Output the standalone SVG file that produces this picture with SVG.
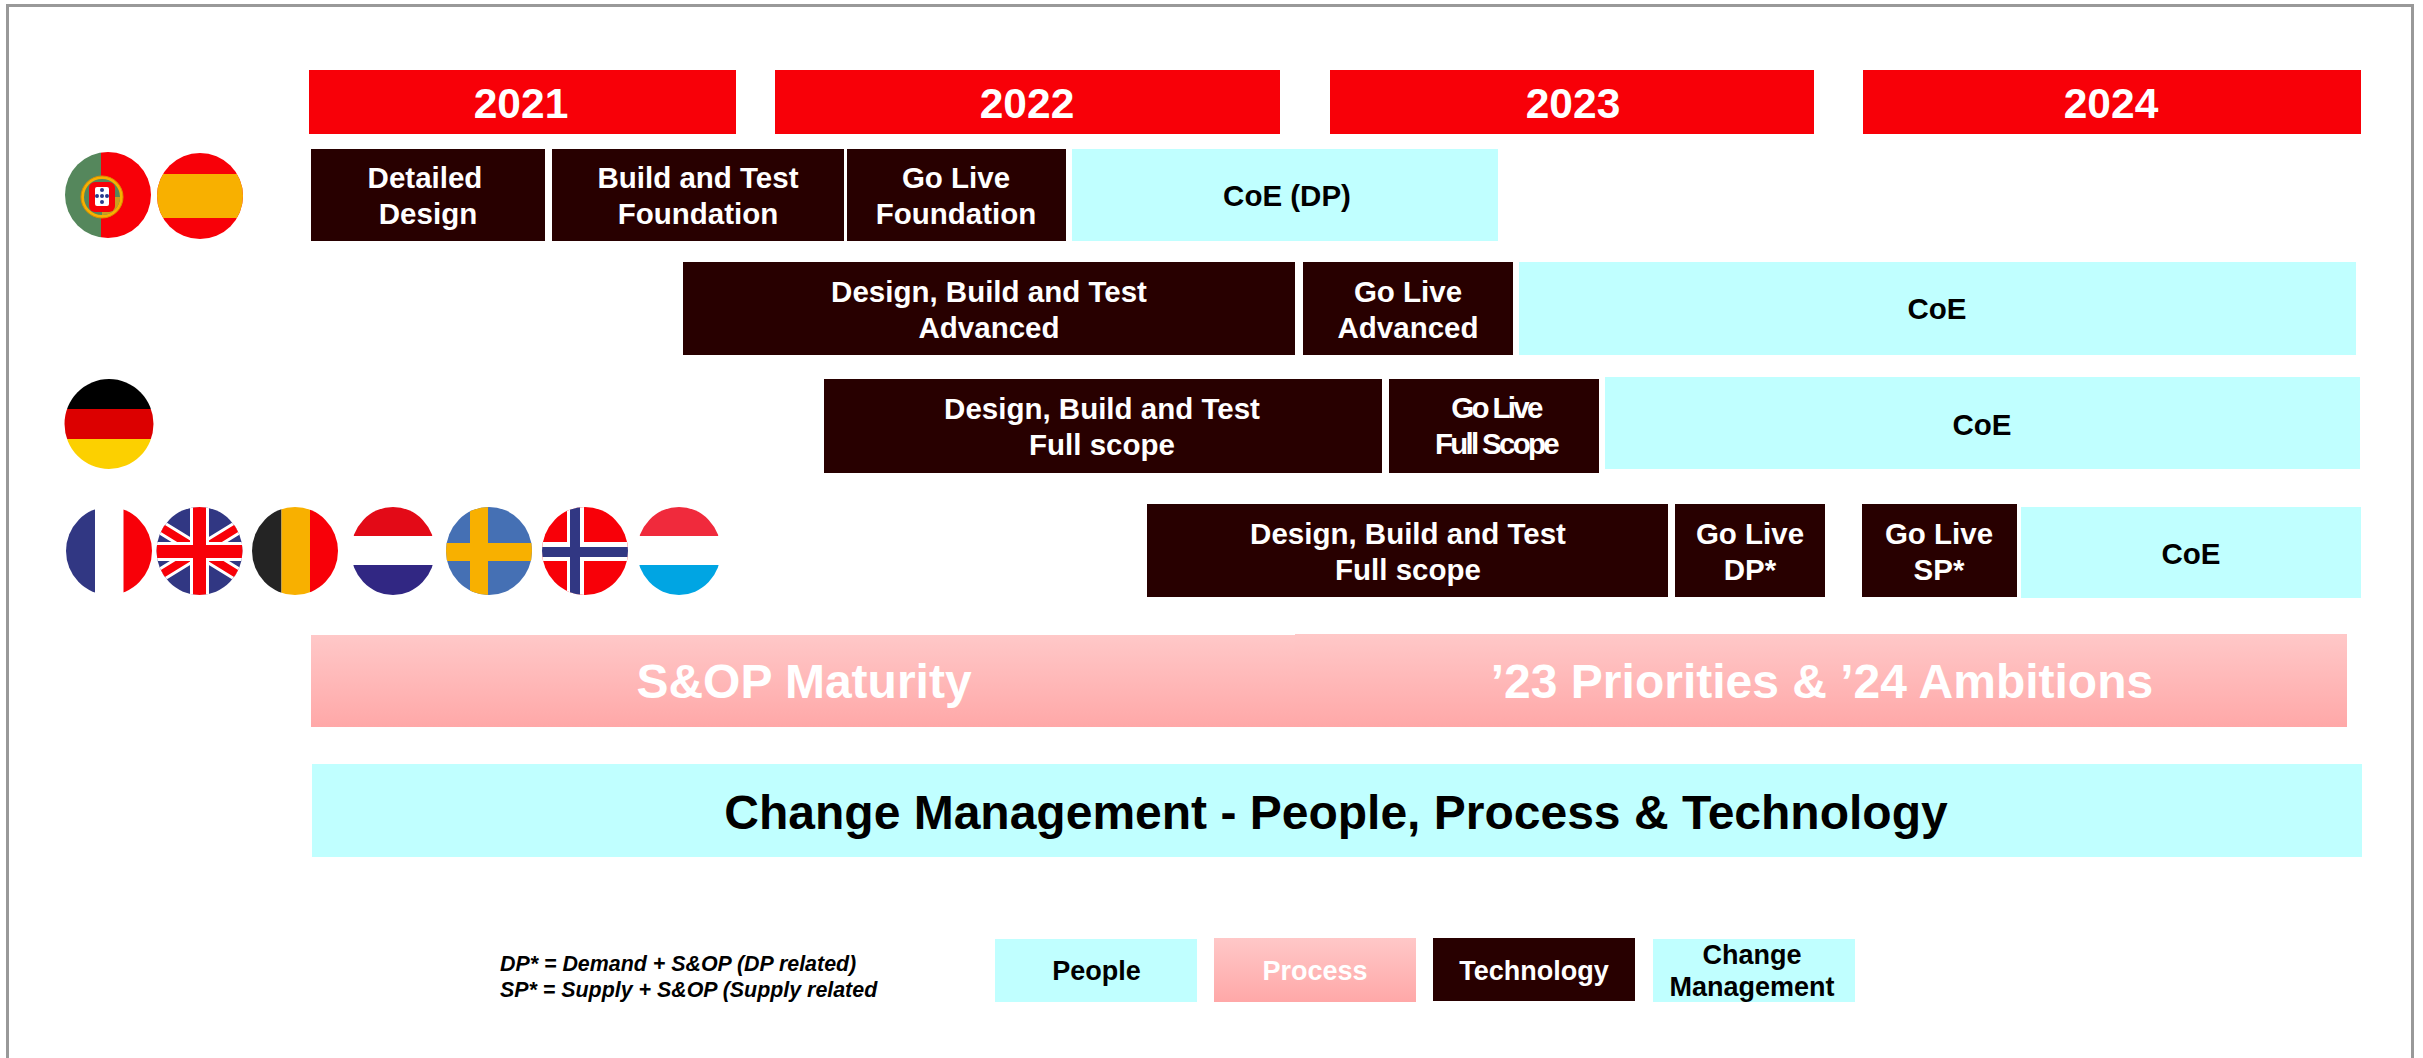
<svg xmlns="http://www.w3.org/2000/svg" width="2423" height="1058" viewBox="0 0 2423 1058">
<style>
text{font-family:"Liberation Sans",Arial,sans-serif;font-weight:bold;text-anchor:middle}
.y{font-size:42.500px;fill:#fff}
.d{fill:#280000}.c{fill:#c0ffff}.r{fill:#f80008}.p{fill:url(#pg)}
.w{font-size:29.500px;fill:#fff}.b{font-size:29.500px;fill:#000}
.l{font-size:27px}
.big{font-size:48px;fill:#fff}
.leg{font-size:21.400px;font-style:italic;text-anchor:start;fill:#000}
</style>
<defs>
<linearGradient id="pg" x1="0" y1="0" x2="0" y2="1"><stop offset="0" stop-color="#ffc8c8"/><stop offset="1" stop-color="#ffa8a8"/></linearGradient>
<clipPath id="cpt"><circle cx="108" cy="195" r="43"/></clipPath>
<clipPath id="ces"><circle cx="200" cy="196" r="43"/></clipPath>
<clipPath id="cde"><ellipse cx="109" cy="424" rx="44.500" ry="45"/></clipPath>
<clipPath id="cfr"><ellipse cx="109" cy="551" rx="43" ry="44"/></clipPath>
<clipPath id="cuk"><ellipse cx="199.500" cy="551" rx="43" ry="44"/></clipPath>
<clipPath id="cbe"><ellipse cx="295" cy="551" rx="43" ry="44"/></clipPath>
<clipPath id="cnl"><ellipse cx="393" cy="551" rx="42" ry="44"/></clipPath>
<clipPath id="cse"><ellipse cx="489" cy="551" rx="43" ry="44"/></clipPath>
<clipPath id="cno"><ellipse cx="585" cy="551" rx="43" ry="44"/></clipPath>
<clipPath id="clu"><ellipse cx="679" cy="551" rx="42" ry="44"/></clipPath>
</defs>
<rect width="2423" height="1058" fill="#fff"/>
<path d="M7.500 1058V5.500H2412.500V1058" fill="none" stroke="#999" stroke-width="3"/>
<g id="connectors"/>
<g id="year-2021"><rect class="r" x="309" y="70" width="427" height="64"/><text class="y" x="521" y="118">2021</text></g>
<g id="year-2022"><rect class="r" x="775" y="70" width="505" height="64"/><text class="y" x="1027" y="118">2022</text></g>
<g id="year-2023"><rect class="r" x="1330" y="70" width="484" height="64"/><text class="y" x="1573" y="118">2023</text></g>
<g id="year-2024"><rect class="r" x="1863" y="70" width="498" height="64"/><text class="y" x="2111" y="118">2024</text></g>

<g id="flag-pt" clip-path="url(#cpt)"><rect x="60" y="150" width="41" height="90" fill="#55875c"/><rect x="101" y="150" width="55" height="90" fill="#f80008"/><circle cx="102" cy="197" r="21" fill="#f8b000" stroke="#d89000"/><circle cx="102" cy="197" r="18" fill="#55875c"/><path d="M102 197h18v2a18 18 0 0 1-18 16z" fill="#c8a020"/><rect x="89" y="182" width="26" height="30" rx="6" fill="#f80008"/><rect x="95" y="187" width="14" height="19" rx="2" fill="#fff"/><g fill="#2a3a8c"><circle cx="102" cy="190" r="2"/><circle cx="97" cy="196" r="2"/><circle cx="102" cy="196" r="2"/><circle cx="107" cy="196" r="2"/><circle cx="102" cy="202" r="2"/></g></g>
<g id="flag-es" clip-path="url(#ces)"><rect x="150" y="150" width="100" height="100" fill="#f80008"/><rect x="150" y="174" width="100" height="44" fill="#f8b000"/></g>
<g id="flag-de" clip-path="url(#cde)"><rect x="60" y="375" width="100" height="34" fill="#000"/><rect x="60" y="409" width="100" height="30" fill="#dc0000"/><rect x="60" y="439" width="100" height="34" fill="#fcd000"/></g>
<g id="flag-fr" clip-path="url(#cfr)"><rect x="60" y="505" width="35" height="95" fill="#313783"/><rect x="123.500" y="505" width="35" height="95" fill="#f80008"/></g>
<g id="flag-uk" clip-path="url(#cuk)"><rect x="150" y="500" width="100" height="100" fill="#313783"/><path d="M129.500 508L269.500 594M269.500 508L129.500 594" stroke="#fff" stroke-width="14"/><path d="M129.500 508L269.500 594M269.500 508L129.500 594" stroke="#f80008" stroke-width="8"/><path d="M199.500 500V600M150 551.500H250" stroke="#fff" stroke-width="19"/><path d="M199.500 500V600M150 551.500H250" stroke="#f80008" stroke-width="13"/></g>
<g id="flag-be" clip-path="url(#cbe)"><rect x="245" y="500" width="36.500" height="100" fill="#242424"/><rect x="281.500" y="500" width="28.500" height="100" fill="#f8b000"/><rect x="310" y="500" width="35" height="100" fill="#f80008"/></g>
<g id="flag-nl" clip-path="url(#cnl)"><rect x="345" y="500" width="100" height="36" fill="#e30a17"/><rect x="345" y="565" width="100" height="36" fill="#312783"/></g>
<g id="flag-se" clip-path="url(#cse)"><rect x="440" y="500" width="100" height="100" fill="#4570b4"/><rect x="470" y="500" width="18" height="100" fill="#f8b000"/><rect x="440" y="543" width="100" height="18" fill="#f8b000"/></g>
<g id="flag-no" clip-path="url(#cno)"><rect x="535" y="500" width="100" height="100" fill="#f80008"/><rect x="567" y="500" width="17" height="100" fill="#fff"/><rect x="535" y="542" width="100" height="19" fill="#fff"/><rect x="570" y="500" width="10" height="100" fill="#313783"/><rect x="535" y="547" width="100" height="10" fill="#313783"/></g>
<g id="flag-lu" clip-path="url(#clu)"><rect x="630" y="500" width="100" height="36" fill="#f02a3c"/><rect x="630" y="565" width="100" height="36" fill="#00a5e3"/></g>

<g id="r1-design"><rect class="d" x="311" y="149" width="234" height="92"/><text class="w" x="425" y="188">Detailed</text><text class="w" x="428" y="224">Design</text></g>
<g id="r1-build"><rect class="d" x="552" y="149" width="292" height="92"/><text class="w" x="698" y="188">Build and Test</text><text class="w" x="698" y="224">Foundation</text></g>
<g id="r1-golive"><rect class="d" x="847" y="149" width="219" height="92"/><text class="w" x="956" y="188">Go Live</text><text class="w" x="956" y="224">Foundation</text></g>
<g id="r1-coe"><rect class="c" x="1072" y="149" width="426" height="92"/><text class="b" x="1287" y="206">CoE (DP)</text></g>

<g id="r2-design"><rect class="d" x="683" y="262" width="612" height="93"/><text class="w" x="989" y="302">Design, Build and Test</text><text class="w" x="989" y="338">Advanced</text></g>
<g id="r2-golive"><rect class="d" x="1303" y="262" width="210" height="93"/><text class="w" x="1408" y="302">Go Live</text><text class="w" x="1408" y="338">Advanced</text></g>
<g id="r2-coe"><rect class="c" x="1519" y="262" width="837" height="93"/><text class="b" x="1937" y="319">CoE</text></g>

<g id="r3-design"><rect class="d" x="824" y="379" width="558" height="94"/><text class="w" x="1102" y="419">Design, Build and Test</text><text class="w" x="1102" y="455">Full scope</text></g>
<g id="r3-golive"><rect class="d" x="1389" y="379" width="210" height="94"/><text class="w" x="1496" y="418" letter-spacing="-2.700">Go Live</text><text class="w" x="1496" y="454" letter-spacing="-2.700">Full Scope</text></g>
<g id="r3-coe"><rect class="c" x="1605" y="377" width="755" height="92"/><text class="b" x="1982" y="435">CoE</text></g>

<g id="r4-design"><rect class="d" x="1147" y="504" width="521" height="93"/><text class="w" x="1408" y="544">Design, Build and Test</text><text class="w" x="1408" y="580">Full scope</text></g>
<g id="r4-dp"><rect class="d" x="1675" y="504" width="150" height="93"/><text class="w" x="1750" y="544">Go Live</text><text class="w" x="1750" y="580">DP*</text></g>
<g id="r4-sp"><rect class="d" x="1862" y="504" width="155" height="93"/><text class="w" x="1939" y="544">Go Live</text><text class="w" x="1939" y="580">SP*</text></g>
<g id="r4-coe"><rect class="c" x="2021" y="507" width="340" height="91"/><text class="b" x="2191" y="564">CoE</text></g>

<g id="sop"><rect class="p" x="311" y="635" width="984" height="92"/><text class="big" x="804" y="698">S&amp;OP Maturity</text></g>
<g id="priorities"><rect class="p" x="1295" y="634" width="1052" height="93"/><text class="big" x="1822" y="698">’23 Priorities &amp; ’24 Ambitions</text></g>
<g id="change"><rect class="c" x="312" y="764" width="2050" height="93"/><text x="1336" y="829" font-size="48" fill="#000">Change Management - People, Process &amp; Technology</text></g>

<g id="legend-note"><text class="leg" x="500" y="971">DP* = Demand + S&amp;OP (DP related)</text><text class="leg" x="500" y="997">SP* = Supply + S&amp;OP (Supply related</text></g>
<g id="legend-people"><rect class="c" x="995" y="939" width="202" height="63"/><text class="l" x="1096.500" y="980" fill="#000">People</text></g>
<g id="legend-process"><rect class="p" x="1214" y="938" width="202" height="64"/><text class="l" x="1315" y="980" fill="#fff">Process</text></g>
<g id="legend-technology"><rect class="d" x="1433" y="938" width="202" height="63"/><text class="l" x="1534" y="980" fill="#fff">Technology</text></g>
<g id="legend-change"><rect class="c" x="1653" y="939" width="202" height="63"/><text class="l" x="1752" y="964" fill="#000">Change</text><text class="l" x="1752" y="996" fill="#000">Management</text></g>
</svg>
